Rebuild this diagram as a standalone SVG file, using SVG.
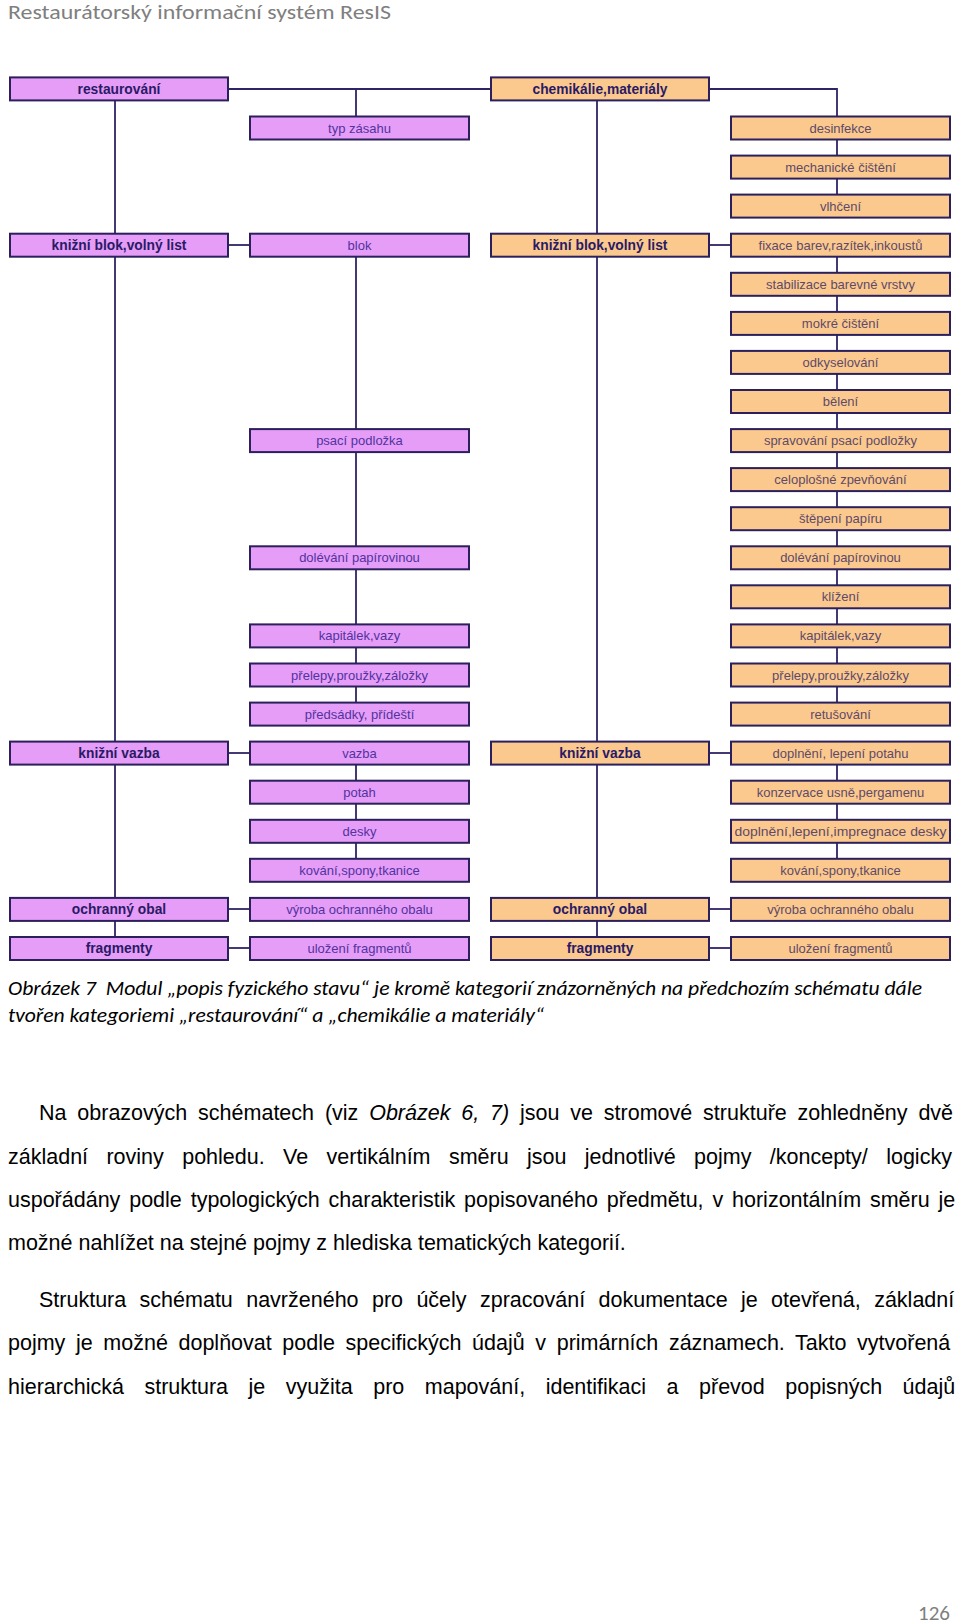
<svg xmlns="http://www.w3.org/2000/svg" width="960" height="1624" viewBox="0 0 960 1624">
<style>
.bg{fill:#ffffff}
.pm{fill:#e59df7;stroke:#2b1f5c;stroke-width:2}
.om{fill:#fbc98d;stroke:#2b1f5c;stroke-width:2}
.tm{font-family:"Liberation Sans",Arial,sans-serif;font-size:13.8px;font-weight:bold;fill:#2a1a66;text-anchor:middle}
.tl{font-family:"Liberation Sans",Arial,sans-serif;font-size:13px;fill:#5233a0;text-anchor:middle}
.tr{font-family:"Liberation Sans",Arial,sans-serif;font-size:13px;fill:#5f4a6a;text-anchor:middle}
.cn line,.cn polyline{stroke:#2e2466;stroke-width:1.8;fill:none}
.hdr{font-family:Carlito,Lato,"Liberation Sans",sans-serif;font-size:21px;fill:#7f7f7f}
.cap{font-family:Carlito,Lato,"Liberation Sans",sans-serif;font-size:19.5px;font-style:italic;fill:#000}
.body{font-family:"Liberation Sans",Arial,sans-serif;font-size:21.5px;fill:#000}
.it{font-style:italic}
</style>
<rect class="bg" x="0" y="0" width="960" height="1624"/>
<text class="hdr" x="8" y="19" textLength="383" lengthAdjust="spacingAndGlyphs">Restaurátorský informační systém ResIS</text>

<g id="connectors" class="cn">
  <line x1="115" y1="89" x2="115" y2="948"/>
  <line x1="228" y1="89" x2="491" y2="89"/>
  <line x1="356" y1="89" x2="356" y2="117"/>
  <line x1="228" y1="245" x2="250" y2="245"/>
  <line x1="228" y1="753" x2="250" y2="753"/>
  <line x1="228" y1="909" x2="250" y2="909"/>
  <line x1="228" y1="948" x2="250" y2="948"/>
  <line x1="356" y1="245" x2="356" y2="714"/>
  <line x1="356" y1="753" x2="356" y2="870"/>
  <line x1="597" y1="89" x2="597" y2="948"/>
  <polyline points="709,89 837,89 837,206"/>
  <line x1="709" y1="245" x2="731" y2="245"/>
  <line x1="709" y1="753" x2="731" y2="753"/>
  <line x1="709" y1="909" x2="731" y2="909"/>
  <line x1="709" y1="948" x2="731" y2="948"/>
  <line x1="837" y1="245" x2="837" y2="714"/>
  <line x1="837" y1="753" x2="837" y2="870"/>
</g>

<!-- left: restaurování -->
<g id="n-restaurovani"><rect class="pm" x="10" y="77.4" width="218" height="23"/><text class="tm" x="119" y="93.8">restaurování</text></g>
<g id="n-typ-zasahu"><rect class="pm" x="250" y="116.5" width="219" height="23"/><text class="tl" x="359.5" y="132.5">typ zásahu</text></g>
<g id="n-l-knizni-blok"><rect class="pm" x="10" y="233.7" width="218" height="23"/><text class="tm" x="119" y="250">knižní blok,volný list</text></g>
<g id="n-blok"><rect class="pm" x="250" y="233.7" width="219" height="23"/><text class="tl" x="359.5" y="249.7">blok</text></g>
<g id="n-psaci-podlozka"><rect class="pm" x="250" y="429.1" width="219" height="23"/><text class="tl" x="359.5" y="445.1">psací podložka</text></g>
<g id="n-l-dolevani"><rect class="pm" x="250" y="546.3" width="219" height="23"/><text class="tl" x="359.5" y="562.3">dolévání papírovinou</text></g>
<g id="n-l-kapitalek"><rect class="pm" x="250" y="624.4" width="219" height="23"/><text class="tl" x="359.5" y="640.4">kapitálek,vazy</text></g>
<g id="n-l-prelepy"><rect class="pm" x="250" y="663.5" width="219" height="23"/><text class="tl" x="359.5" y="679.5">přelepy,proužky,záložky</text></g>
<g id="n-predsadky"><rect class="pm" x="250" y="702.6" width="219" height="23"/><text class="tl" x="359.5" y="718.6">předsádky, přídeští</text></g>
<g id="n-l-knizni-vazba"><rect class="pm" x="10" y="741.6" width="218" height="23"/><text class="tm" x="119" y="757.9">knižní vazba</text></g>
<g id="n-vazba"><rect class="pm" x="250" y="741.6" width="219" height="23"/><text class="tl" x="359.5" y="757.6">vazba</text></g>
<g id="n-potah"><rect class="pm" x="250" y="780.7" width="219" height="23"/><text class="tl" x="359.5" y="796.7">potah</text></g>
<g id="n-desky"><rect class="pm" x="250" y="819.8" width="219" height="23"/><text class="tl" x="359.5" y="835.8">desky</text></g>
<g id="n-l-kovani"><rect class="pm" x="250" y="858.8" width="219" height="23"/><text class="tl" x="359.5" y="874.8">kování,spony,tkanice</text></g>
<g id="n-l-ochranny-obal"><rect class="pm" x="10" y="897.9" width="218" height="23"/><text class="tm" x="119" y="914.2">ochranný obal</text></g>
<g id="n-l-vyroba"><rect class="pm" x="250" y="897.9" width="219" height="23"/><text class="tl" x="359.5" y="913.9">výroba ochranného obalu</text></g>
<g id="n-l-fragmenty"><rect class="pm" x="10" y="937" width="218" height="23"/><text class="tm" x="119" y="953.3">fragmenty</text></g>
<g id="n-l-ulozeni"><rect class="pm" x="250" y="937" width="219" height="23"/><text class="tl" x="359.5" y="953">uložení fragmentů</text></g>

<!-- right: chemikálie -->
<g id="n-chemikalie"><rect class="om" x="491" y="77.4" width="218" height="23"/><text class="tm" x="600" y="93.8">chemikálie,materiály</text></g>
<g id="n-desinfekce"><rect class="om" x="731" y="116.5" width="219" height="23"/><text class="tr" x="840.5" y="132.5">desinfekce</text></g>
<g id="n-mechanicke"><rect class="om" x="731" y="155.6" width="219" height="23"/><text class="tr" x="840.5" y="171.6">mechanické čištění</text></g>
<g id="n-vlhceni"><rect class="om" x="731" y="194.6" width="219" height="23"/><text class="tr" x="840.5" y="210.6">vlhčení</text></g>
<g id="n-r-knizni-blok"><rect class="om" x="491" y="233.7" width="218" height="23"/><text class="tm" x="600" y="250">knižní blok,volný list</text></g>
<g id="n-fixace"><rect class="om" x="731" y="233.7" width="219" height="23"/><text class="tr" x="840.5" y="249.7">fixace barev,razítek,inkoustů</text></g>
<g id="n-stabilizace"><rect class="om" x="731" y="272.8" width="219" height="23"/><text class="tr" x="840.5" y="288.8">stabilizace barevné vrstvy</text></g>
<g id="n-mokre"><rect class="om" x="731" y="311.9" width="219" height="23"/><text class="tr" x="840.5" y="327.9">mokré čištění</text></g>
<g id="n-odkyselovani"><rect class="om" x="731" y="350.9" width="219" height="23"/><text class="tr" x="840.5" y="366.9">odkyselování</text></g>
<g id="n-beleni"><rect class="om" x="731" y="390" width="219" height="23"/><text class="tr" x="840.5" y="406">bělení</text></g>
<g id="n-spravovani"><rect class="om" x="731" y="429.1" width="219" height="23"/><text class="tr" x="840.5" y="445.1">spravování psací podložky</text></g>
<g id="n-celoplosne"><rect class="om" x="731" y="468.1" width="219" height="23"/><text class="tr" x="840.5" y="484.1">celoplošné zpevňování</text></g>
<g id="n-stepeni"><rect class="om" x="731" y="507.2" width="219" height="23"/><text class="tr" x="840.5" y="523.2">štěpení papíru</text></g>
<g id="n-r-dolevani"><rect class="om" x="731" y="546.3" width="219" height="23"/><text class="tr" x="840.5" y="562.3">dolévání papírovinou</text></g>
<g id="n-klizeni"><rect class="om" x="731" y="585.3" width="219" height="23"/><text class="tr" x="840.5" y="601.3">klížení</text></g>
<g id="n-r-kapitalek"><rect class="om" x="731" y="624.4" width="219" height="23"/><text class="tr" x="840.5" y="640.4">kapitálek,vazy</text></g>
<g id="n-r-prelepy"><rect class="om" x="731" y="663.5" width="219" height="23"/><text class="tr" x="840.5" y="679.5">přelepy,proužky,záložky</text></g>
<g id="n-retusovani"><rect class="om" x="731" y="702.6" width="219" height="23"/><text class="tr" x="840.5" y="718.6">retušování</text></g>
<g id="n-r-knizni-vazba"><rect class="om" x="491" y="741.6" width="218" height="23"/><text class="tm" x="600" y="757.9">knižní vazba</text></g>
<g id="n-doplneni-potahu"><rect class="om" x="731" y="741.6" width="219" height="23"/><text class="tr" x="840.5" y="757.6">doplnění, lepení potahu</text></g>
<g id="n-konzervace"><rect class="om" x="731" y="780.7" width="219" height="23"/><text class="tr" x="840.5" y="796.7">konzervace usně,pergamenu</text></g>
<g id="n-impregnace"><rect class="om" x="731" y="819.8" width="219" height="23"/><text class="tr" x="840.5" y="835.8" textLength="212" lengthAdjust="spacingAndGlyphs">doplnění,lepení,impregnace desky</text></g>
<g id="n-r-kovani"><rect class="om" x="731" y="858.8" width="219" height="23"/><text class="tr" x="840.5" y="874.8">kování,spony,tkanice</text></g>
<g id="n-r-ochranny-obal"><rect class="om" x="491" y="897.9" width="218" height="23"/><text class="tm" x="600" y="914.2">ochranný obal</text></g>
<g id="n-r-vyroba"><rect class="om" x="731" y="897.9" width="219" height="23"/><text class="tr" x="840.5" y="913.9">výroba ochranného obalu</text></g>
<g id="n-r-fragmenty"><rect class="om" x="491" y="937" width="218" height="23"/><text class="tm" x="600" y="953.3">fragmenty</text></g>
<g id="n-r-ulozeni"><rect class="om" x="731" y="937" width="219" height="23"/><text class="tr" x="840.5" y="953">uložení fragmentů</text></g>

<!-- caption -->
<text class="cap" x="8" y="995" textLength="914" lengthAdjust="spacingAndGlyphs">Obrázek 7&#160; Modul „popis fyzického stavu“ je kromě kategorií znázorněných na předchozím schématu dále</text>
<text class="cap" x="8" y="1022" textLength="536" lengthAdjust="spacingAndGlyphs">tvořen kategoriemi „restaurování“ a „chemikálie a materiály“</text>

<!-- body text (justified via word-spacing) -->
<text class="body" x="39" y="1120" style="word-spacing:4.87px">Na obrazových schématech (viz <tspan class="it">Obrázek 6, 7)</tspan> jsou ve stromové struktuře zohledněny dvě</text>
<text class="body" x="8" y="1164" style="word-spacing:12.41px">základní roviny pohledu. Ve vertikálním směru jsou jednotlivé pojmy /koncepty/ logicky</text>
<text class="body" x="8" y="1207" style="word-spacing:2.87px">uspořádány podle typologických charakteristik popisovaného předmětu, v horizontálním směru je</text>
<text class="body" x="8" y="1250">možné nahlížet na stejné pojmy z hlediska tematických kategorií.</text>
<text class="body" x="39" y="1307" style="word-spacing:7.41px">Struktura schématu navrženého pro účely zpracování dokumentace je otevřená, základní</text>
<text class="body" x="8" y="1350" style="word-spacing:4.65px">pojmy je možné doplňovat podle specifických údajů v primárních záznamech. Takto vytvořená</text>
<text class="body" x="8" y="1394" style="word-spacing:14.53px">hierarchická struktura je využita pro mapování, identifikaci a převod popisných údajů</text>

<text class="hdr" x="918" y="1620">126</text>
</svg>
